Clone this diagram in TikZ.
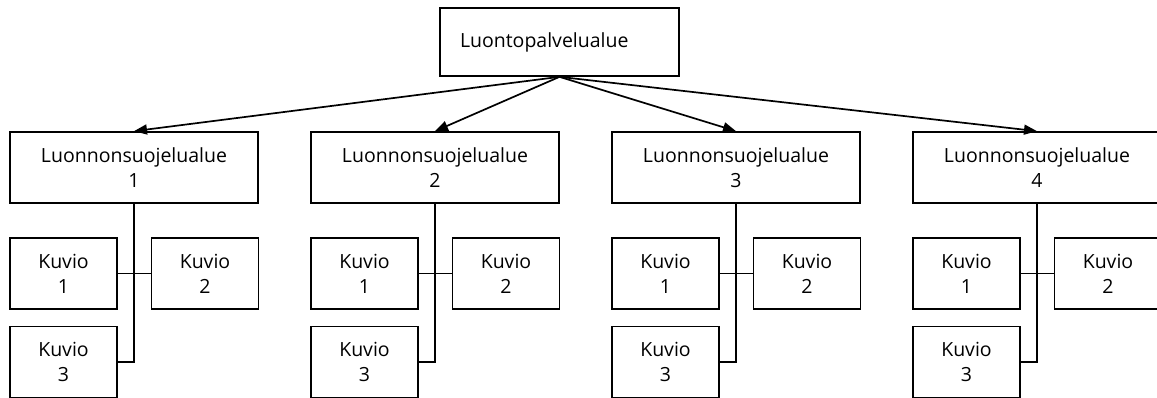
\documentclass[tikz,border=0pt]{standalone}
\usepackage{fontspec}
\setmainfont{Open Sans}
\usetikzlibrary{arrows.meta}
\tikzset{
  alue/.style={rectangle, draw=black, line width=1.7pt, fill=white,
               minimum width=248pt, minimum height=71pt, inner sep=0pt,
               align=center, font=\fontsize{19.5}{25}\selectfont},
  kuvio/.style={alue, minimum width=107pt},
  paa/.style={alue, minimum width=239pt, minimum height=68pt,
              text width=199pt, align=left, inner xsep=20pt},
  haara/.style={line width=1.7pt},
  arc/.style={-{Triangle[length=13pt, width=10pt]}, line width=1.7pt}
}

\begin{document}
\begin{tikzpicture}[x=1pt, y=-1pt]
  \useasboundingbox (0,0) rectangle (1157,398);
  \node[paa] (lpa) at (559.5,42) {Luontopalvelualue};
  % four protected areas, each with three patches
  \foreach \i in {1,...,4} {
    \pgfmathsetmacro{\cx}{134+301*(\i-1)}
    \node[alue] (lsa\i) at (\cx,167.5) {Luonnonsuojelualue\\\i};
    \node[kuvio] (k\i1) at (\cx-70.5,273.5) {Kuvio\\1};
    \node[kuvio] (k\i2) at (\cx+71,273.5) {Kuvio\\2};
    \node[kuvio] (k\i3) at (\cx-70.5,362) {Kuvio\\3};
    \draw[haara] (lsa\i.south) |- (k\i3.east);
    \draw[haara] (k\i1.east) -- (k\i2.west);
    \draw[arc] (lpa.south) -- (lsa\i.north);
  }
\end{tikzpicture}
\end{document}
